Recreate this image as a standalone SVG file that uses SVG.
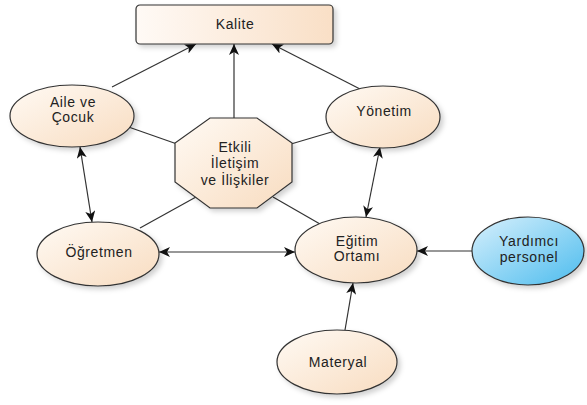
<svg xmlns="http://www.w3.org/2000/svg" width="587" height="405" viewBox="0 0 587 405">
<defs>
<linearGradient id="peach" x1="0" y1="0" x2="1" y2="1">
<stop offset="0" stop-color="#fffaf4"/><stop offset="1" stop-color="#f8dcc0"/>
</linearGradient>
<linearGradient id="peachH" x1="0" y1="0" x2="1" y2="0">
<stop offset="0" stop-color="#fffaf6"/><stop offset="1" stop-color="#f9dfc6"/>
</linearGradient>
<linearGradient id="blue" x1="0" y1="0" x2="1" y2="1">
<stop offset="0" stop-color="#d8f0fc"/><stop offset="1" stop-color="#4cbcee"/>
</linearGradient>
<filter id="sh" x="-20%" y="-20%" width="150%" height="160%">
<feDropShadow dx="3" dy="3" stdDeviation="2.5" flood-color="#000" flood-opacity="0.18"/>
</filter>
<marker id="ah" markerWidth="12" markerHeight="10" refX="11" refY="5" orient="auto-start-reverse" markerUnits="userSpaceOnUse">
<path d="M0,0 L11,5 L0,10 L3,5 Z" fill="#111"/>
</marker>
</defs>
<style>
.n{stroke:#333;stroke-width:1.2;filter:url(#sh)}
.t{font-family:"Liberation Sans",Arial,sans-serif;font-size:14px;letter-spacing:0.6px;fill:#222;text-anchor:middle}
.c line{stroke:#333;stroke-width:1.2}
.a{marker-end:url(#ah)}
.b{marker-start:url(#ah);marker-end:url(#ah)}
</style>
<g class="c" id="connectors">
<line x1="120" y1="124" x2="177" y2="144"/>
<line x1="335" y1="131" x2="291" y2="144"/>
<line x1="140" y1="228" x2="196" y2="197"/>
<line x1="273" y1="197" x2="320" y2="224"/>
<line class="a" x1="112" y1="87" x2="196" y2="44"/>
<line class="a" x1="234" y1="118" x2="234" y2="44"/>
<line class="a" x1="360" y1="89" x2="272" y2="44"/>
<line class="b" x1="80" y1="147" x2="92" y2="222"/>
<line class="b" x1="380" y1="147" x2="366" y2="217"/>
<line class="b" x1="159" y1="252" x2="295" y2="252"/>
<line class="a" x1="472" y1="251" x2="417" y2="251"/>
<line class="a" x1="345" y1="330" x2="353" y2="283"/>
</g>
<g id="kalite">
<rect class="n" x="136" y="5" width="197" height="39" rx="4" fill="url(#peachH)"/>
<text class="t" x="235" y="29">Kalite</text>
</g>
<g id="aile">
<ellipse class="n" cx="72" cy="116" rx="62" ry="31" fill="url(#peach)"/>
<text class="t" x="73" y="107">Aile ve</text>
<text class="t" x="73" y="122">Çocuk</text>
</g>
<g id="yonetim">
<ellipse class="n" cx="383" cy="117" rx="57" ry="31" fill="url(#peach)"/>
<text class="t" x="384" y="116">Yönetim</text>
</g>
<g id="etkili">
<polygon class="n" points="210,118 257,118 292,143 292,182 257,208 210,208 175,182 175,143" fill="url(#peach)"/>
<text class="t" x="235" y="152">Etkili</text>
<text class="t" x="235" y="168">İletişim</text>
<text class="t" x="235" y="185">ve İlişkiler</text>
</g>
<g id="ogretmen">
<ellipse class="n" cx="98" cy="254" rx="61" ry="32" fill="url(#peach)"/>
<text class="t" x="99" y="257">Öğretmen</text>
</g>
<g id="egitim">
<ellipse class="n" cx="356" cy="250" rx="61" ry="33" fill="url(#peach)"/>
<text class="t" x="357" y="246">Eğitim</text>
<text class="t" x="357" y="261">Ortamı</text>
</g>
<g id="yardimci">
<ellipse class="n" cx="528" cy="251" rx="56" ry="34" fill="url(#blue)"/>
<text class="t" x="529" y="246">Yardımcı</text>
<text class="t" x="529" y="262">personel</text>
</g>
<g id="materyal">
<ellipse class="n" cx="337" cy="362" rx="60" ry="32" fill="url(#peach)"/>
<text class="t" x="338" y="367">Materyal</text>
</g>
</svg>
